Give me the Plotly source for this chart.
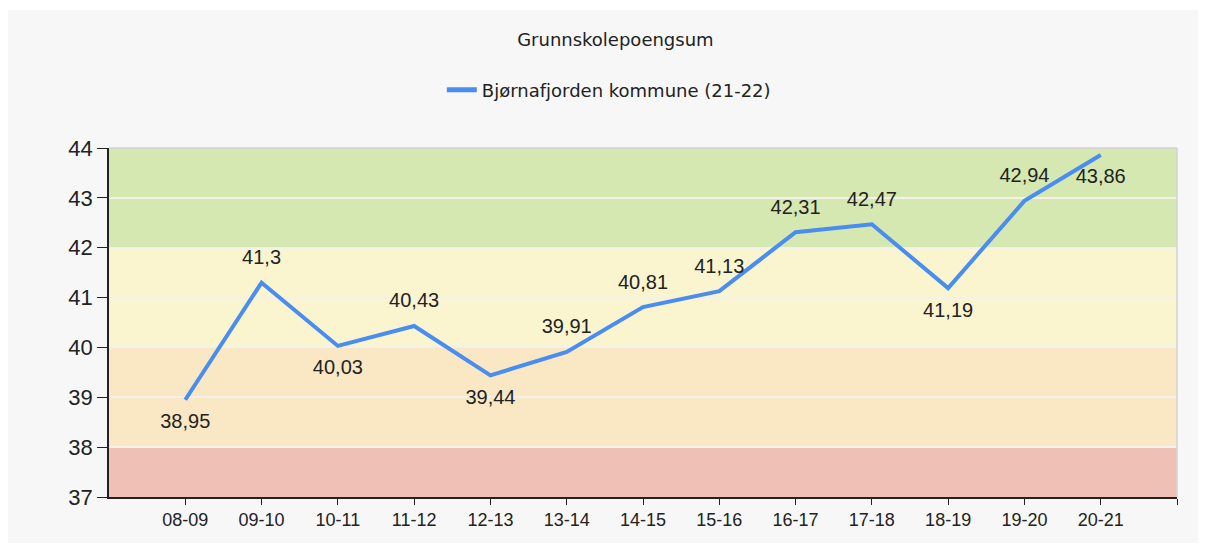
import plotly.graph_objects as go

# data
seasons = ['08-09', '09-10', '10-11', '11-12', '12-13', '13-14', '14-15',
           '15-16', '16-17', '17-18', '18-19', '19-20', '20-21']
points = [38.95, 41.3, 40.03, 40.43, 39.44, 39.91, 40.81,
          41.13, 42.31, 42.47, 41.19, 42.94, 43.86]
label_pos = ['bottom center', 'top center', 'bottom center', 'top center',
             'bottom center', 'top center', 'top center', 'top center',
             'top center', 'top center', 'bottom center', 'top center',
             'bottom center']

# coloured bands (from, to, colour)
band_low = [37, 38, 40, 42]
band_high = [38, 40, 42, 44]
band_colors = ['#efc1b6', '#fae8c5', '#faf5cf', '#d5e8b1']

x_idx = list(range(len(seasons)))
labels = [f"{v:g}".replace('.', ',') for v in points]

fig = go.Figure()

fig.add_trace(go.Scatter(
    x=x_idx,
    y=points,
    mode='lines+markers+text',
    name='Bjørnafjorden kommune (21-22)',
    line=dict(color='#4a8df0', width=4),
    # invisible markers just push the value labels away from the line
    marker=dict(size=20, color='rgba(0,0,0,0)'),
    text=labels,
    textposition=label_pos,
    textfont=dict(family='Liberation Sans, Arial', size=20, color='#222222'),
    cliponaxis=False,
))

shapes = [
    # grey panel behind everything
    dict(type='rect', xref='paper', yref='paper', x0=-0.0946, x1=1.03,
         y0=-0.132, y1=1.395, fillcolor='#f7f7f7', line_width=0, layer='below'),
]
for lo, hi, c in zip(band_low, band_high, band_colors):
    shapes.append(dict(type='rect', xref='paper', yref='y', x0=0, x1=1,
                       y0=lo, y1=hi, fillcolor=c, line_width=0, layer='below'))
# light border on top and right
shapes.append(dict(type='line', xref='paper', yref='paper', x0=0, x1=1, y0=1, y1=1,
                   line=dict(color='#d3d3d3', width=1.5)))
shapes.append(dict(type='line', xref='paper', yref='paper', x0=1, x1=1, y0=0, y1=1,
                   line=dict(color='#d3d3d3', width=1.5)))

fig.update_layout(
    width=1198,
    height=545,
    margin=dict(l=101, r=29, t=140, b=56),
    paper_bgcolor='white',
    plot_bgcolor='rgba(0,0,0,0)',
    shapes=shapes,
    title=dict(text='Grunnskolepoengsum', x=0.507, xanchor='center',
               y=0.941, yanchor='middle',
               font=dict(family='DejaVu Sans', size=18, color='#222222')),
    showlegend=True,
    legend=dict(orientation='h', x=0.468, xanchor='center', y=1.166, yanchor='middle',
                bgcolor='rgba(0,0,0,0)', itemsizing='constant',
                font=dict(family='DejaVu Sans', size=18, color='#222222')),
)

fig.update_xaxes(
    range=[-1, 13],
    tickvals=x_idx + [13],
    ticktext=seasons + [''],
    showgrid=False,
    zeroline=False,
    showline=True,
    linecolor='#222222',
    linewidth=1.5,
    ticks='outside',
    ticklen=6,
    tickcolor='#222222',
    tickfont=dict(family='Liberation Sans, Arial', size=18, color='#222222'),
)
fig.update_yaxes(
    range=[37, 44],
    dtick=1,
    showgrid=True,
    gridcolor='#f4f1ea',
    gridwidth=2,
    zeroline=False,
    showline=True,
    linecolor='#222222',
    linewidth=1.5,
    ticks='outside',
    ticklen=10,
    tickcolor='#222222',
    tickfont=dict(family='Liberation Sans, Arial', size=22, color='#222222'),
)

fig.write_html("out.html")
